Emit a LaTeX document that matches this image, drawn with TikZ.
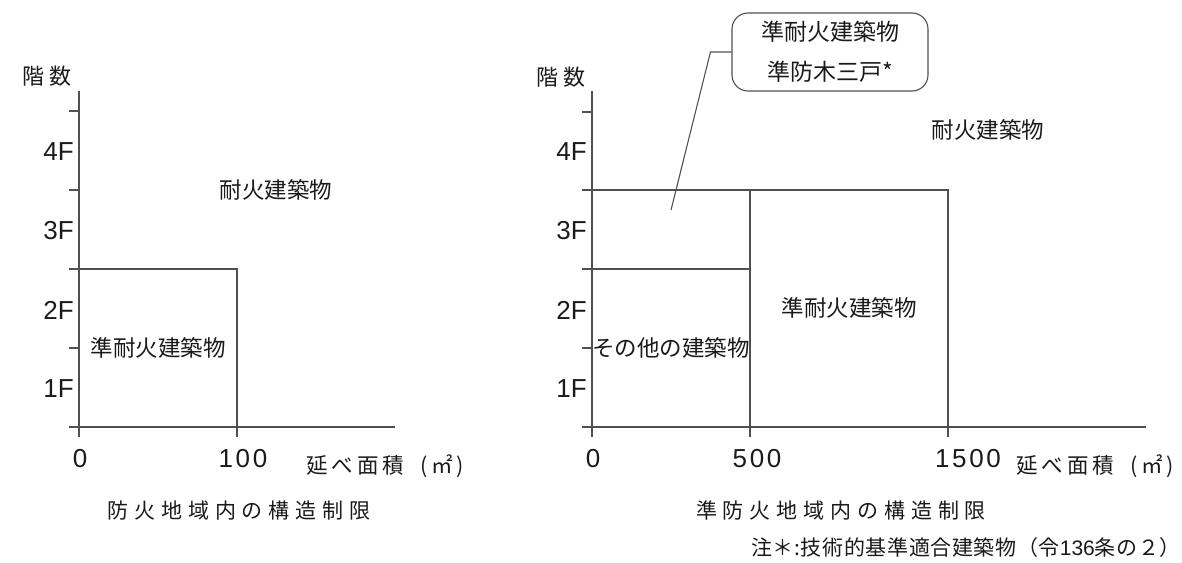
\documentclass[tikz,border=0pt]{standalone}
\usepackage{fontspec}
\setmainfont{Noto Sans CJK JP}
\newfontfamily\lat[LetterSpace=10]{Liberation Sans}
\newfontfamily\latF{Liberation Sans}
\newfontfamily\jcap[LetterSpace=28]{Noto Sans CJK JP}
\newfontfamily\jarea[LetterSpace=19]{Noto Sans CJK JP}
\newfontfamily\jfloor[LetterSpace=27]{Noto Sans CJK JP}
\newfontfamily\jnote[LetterSpace=3]{Noto Sans CJK JP}
\newcommand{\areatext}{{\jarea 延べ面積}\kern16pt{\rmfamily (}\kern4pt{\rmfamily ㎡}\kern3pt{\rmfamily )}}
\definecolor{linecol}{HTML}{505050}
\definecolor{txtcol}{HTML}{1A1A1A}
\begin{document}
\begin{tikzpicture}[x=1pt,y=-1pt,
  ln/.style={draw=linecol, line width=1.1pt},
  lbl/.style={inner sep=0pt, text=txtcol, font=\fontsize{22.5}{27}\selectfont},
  flr/.style={inner sep=0pt, anchor=east, text=txtcol, font=\latF\fontsize{26}{30}\selectfont},
  num/.style={inner sep=0pt, text=txtcol, font=\lat\fontsize{26}{30}\selectfont},
  axlbl/.style={inner sep=0pt, text=txtcol, font=\jfloor\fontsize{22}{26}\selectfont},
  arealbl/.style={inner sep=0pt, anchor=west, text=txtcol, font=\fontsize{21.5}{26}\selectfont},
  caplbl/.style={inner sep=0pt, text=txtcol, font=\jcap\fontsize{21}{26}\selectfont},
  callout/.style={draw=linecol, line width=1.1pt, rounded corners=16pt, minimum width=196pt, minimum height=78pt, inner sep=0pt, align=center, text=txtcol, font=\fontsize{23}{40}\selectfont}
]
\useasboundingbox (0,0) rectangle (1182,562);

% ---------- left chart ----------
\draw[ln] (79,91) -- (79,437);
\draw[ln] (69,427) -- (395,427);
\draw[ln] (69,111) -- (79,111);
\draw[ln] (69,190) -- (79,190);
\draw[ln] (69,348) -- (79,348);
\draw[ln] (69,269) -- (237,269) -- (237,437);

\node[axlbl] (lfl) at (47,76) {階数};
\node[flr] (l4) at (74,152) {4F};
\node[flr] (l3) at (74,231) {3F};
\node[flr] (l2) at (74,310) {2F};
\node[flr] (l1) at (74,389) {1F};
\node[num] (l0) at (80,459) {0};
\node[num] (l100) at (243,459) {100};
\node[arealbl] (larea) at (306,466) {\areatext};
\node[caplbl] (lcap) at (239,511) {防火地域内の構造制限};
\node[lbl] (lfire) at (276,190) {耐火建築物};
\node[lbl] (lsemi) at (158,348) {準耐火建築物};

% ---------- right chart ----------
\draw[ln] (592,91) -- (592,437);
\draw[ln] (582,427) -- (1146,427);
\draw[ln] (582,112) -- (592,112);
\draw[ln] (582,348) -- (592,348);
\draw[ln] (582,190) -- (948,190) -- (948,437);
\draw[ln] (582,269) -- (750,269);
\draw[ln] (750,190) -- (750,437);

\node[axlbl] (rfl) at (561,77) {階数};
\node[flr] (r4) at (587,152) {4F};
\node[flr] (r3) at (587,231) {3F};
\node[flr] (r2) at (587,310) {2F};
\node[flr] (r1) at (587,389) {1F};
\node[num] (r0) at (593,459) {0};
\node[num] (r500) at (757,459) {500};
\node[num] (r1500) at (968,459) {1500};
\node[arealbl] (rarea) at (1016,466) {\areatext};
\node[caplbl] (rcap) at (841,510) {準防火地域内の構造制限};
\node[lbl] (rfire) at (988,130) {耐火建築物};
\node[lbl] (rsemi) at (849,308) {準耐火建築物};
\node[lbl] (rother) at (671,348) {その他の建築物};

\node[callout] (cb) at (830,52) {準耐火建築物\\準防木三戸*};
\coordinate (lp) at (671,210);
\draw[ln] (cb.west) -- ++(-21,0) -- (lp);

\node[inner sep=0pt, text=txtcol, font=\jnote\fontsize{21}{25}\selectfont] (note) at (966,548) {注＊:技術的基準適合建築物（令{\latF 136}条の２）};
\end{tikzpicture}
\end{document}
